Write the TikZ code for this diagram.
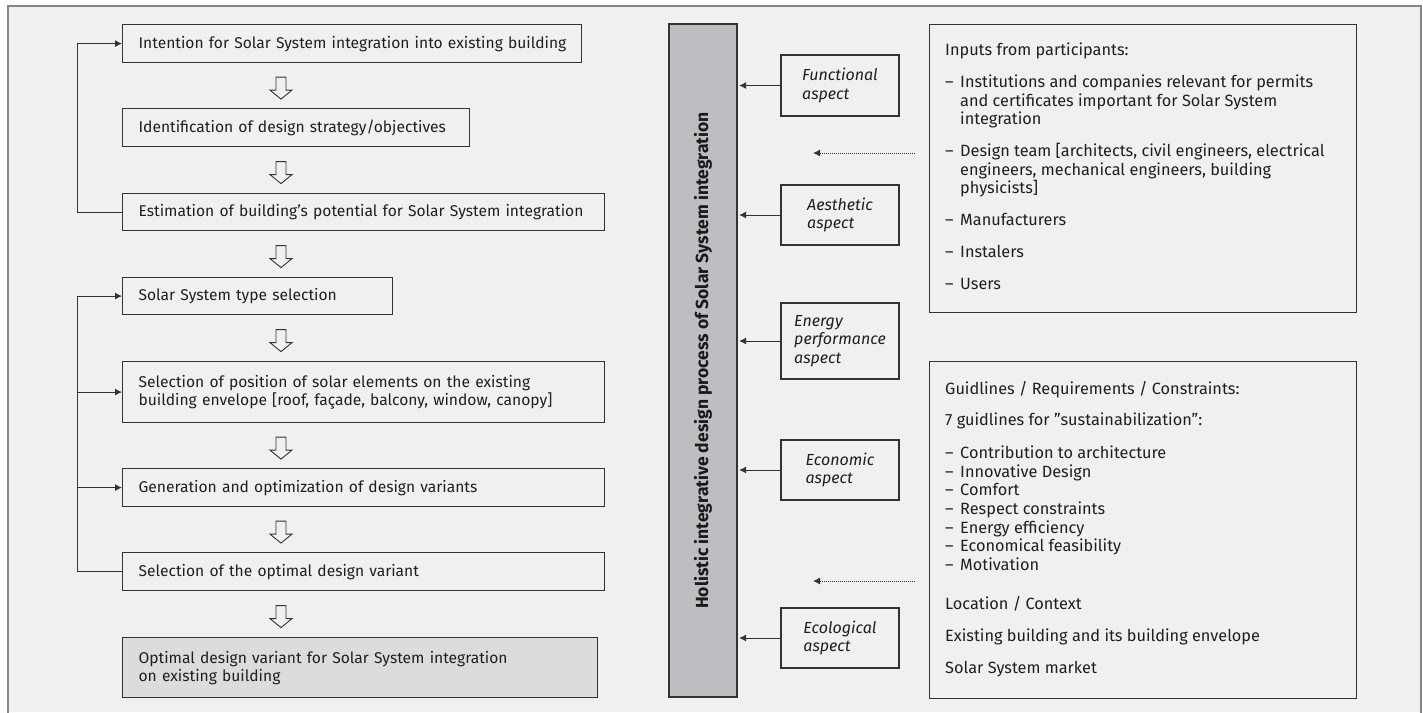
\documentclass[tikz,border=0pt]{standalone}
\usepackage{fontspec}
\setmainfont{Fira Sans}
\usetikzlibrary{arrows.meta,calc}
\definecolor{bg}{HTML}{F0F0F0}
\definecolor{framec}{HTML}{858585}
\definecolor{linec}{HTML}{333333}
\definecolor{barc}{HTML}{BDBEC1}
\definecolor{finalc}{HTML}{DCDCDD}
\tikzset{
  base font/.style={font=\fontsize{15.6}{18}\selectfont},
  stepbox/.style={draw=linec, line width=1.2pt, anchor=north west, inner xsep=16pt, inner ysep=0pt, align=left, base font, text=black!88},
  aspectbox/.style={draw=linec, line width=1.2pt, minimum width=118pt, inner sep=0pt, align=left, font=\fontsize{16}{18.5}\selectfont\itshape, text=black!88},
  infobox/.style={draw=linec, line width=1.2pt, anchor=north west, inner sep=0pt, minimum width=427pt},
  txt/.style={anchor=base west, inner sep=0pt, font=\fontsize{16.3}{18}\selectfont, text=black!88},
  conn/.style={draw=linec, line width=1pt, -{Latex[length=7pt,width=7pt]}},
  loop/.style={draw=linec, line width=1pt},
  dotconn/.style={draw=linec, line width=0.9pt, dash pattern=on 0.9pt off 1.1pt, -{Latex[length=7pt,width=7pt]}},
  harrow/.pic={\draw[linec, line width=0.9pt, fill=bg] (-5,-8.5) -- (5,-8.5) -- (5,4.5) -- (11,4.5) -- (0,13.5) -- (-11,4.5) -- (-5,4.5) -- cycle;}
}
\begin{document}
\begin{tikzpicture}[x=1pt,y=-1pt]
\useasboundingbox (0,0) rectangle (1423,712);
\fill[white] (0,0) rectangle (1423,712);
\fill[bg] (8,6) rectangle (1421,712);
\draw[framec, line width=2pt] (8,713) -- (8,6) -- (1421,6) -- (1421,713);

% left column boxes
\node[stepbox, minimum height=38pt, text width=427pt] (b1) at (122,24) {\mbox{Intention for Solar System integration into existing building}};
\node[stepbox, minimum height=38pt, text width=315pt] (b2) at (122,108) {\mbox{Identification of design strategy/objectives}};
\node[stepbox, minimum height=37pt, text width=450pt] (b3) at (122,193) {\mbox{Estimation of building’s potential for Solar System integration}};
\node[stepbox, minimum height=37pt, text width=238pt] (b4) at (122,277) {\mbox{Solar System type selection}};
\node[stepbox, minimum height=61pt, text width=450pt] (b5) at (122,361) {\mbox{Selection of position of solar elements on the existing}\\\mbox{building envelope [roof, façade, balcony, window, canopy]}};
\node[stepbox, minimum height=38pt, text width=450pt] (b6) at (122,468) {\mbox{Generation and optimization of design variants}};
\node[stepbox, minimum height=38pt, text width=450pt] (b7) at (122,552) {\mbox{Selection of the optimal design variant}};
\node[stepbox, minimum height=60pt, text width=443pt, fill=finalc] (b8) at (122,637) {\mbox{Optimal design variant for Solar System integration}\\\mbox{on existing building}};

% hollow arrows
\coordinate (ax) at (281,0);
\foreach \a/\b in {b1/b2,b2/b3,b3/b4,b4/b5,b5/b6,b6/b7,b7/b8}
  \pic at ($(\a.south -| ax)!0.5!(\b.north -| ax)$) {harrow};

% feedback loops
\coordinate (lx) at (77,0);
\draw[loop] (b3.west) -- (b3.west -| lx) -- (b1.west -| lx);
\draw[conn] (b1.west -| lx) -- (b1.west);
\draw[loop] (b7.west) -- (b7.west -| lx) -- (b4.west -| lx);
\draw[conn] (b4.west -| lx) -- (b4.west);
\draw[conn] (b5.west -| lx) -- (b5.west);
\draw[conn] (b6.west -| lx) -- (b6.west);

% central bar
\node[draw=linec, line width=1.2pt, fill=barc, minimum width=68pt, minimum height=673pt, inner sep=0pt] (bar) at (703,360.5) {};
\node[rotate=90, inner sep=0pt, font=\fontsize{17.5}{19}\selectfont\bfseries, text=black!90] (bartext) at (bar.center) {Holistic integrative design process of Solar System integration};

% aspect boxes
\node[aspectbox, minimum height=61pt] (functional) at (840,85.5) {Functional\\aspect};
\node[aspectbox, minimum height=60pt] (aesthetic) at (840,215) {Aesthetic\\aspect};
\node[aspectbox, minimum height=76pt] (energy) at (840,341) {Energy\\performance\\aspect};
\node[aspectbox, minimum height=60pt] (economic) at (840,470) {Economic\\aspect};
\node[aspectbox, minimum height=60pt] (ecological) at (840,638) {Ecological\\aspect};
\foreach \n in {functional,aesthetic,energy,economic,ecological}
  \draw[conn, shorten >=1.5pt] (\n.west) -- (\n.west -| bar.east);

% dotted arrows
\coordinate (d1s) at (915,153);
\coordinate (d1e) at (813,153);
\coordinate (d2s) at (915,581);
\coordinate (d2e) at (813,581);
\draw[dotconn] (d1s) -- (d1e);
\draw[dotconn] (d2s) -- (d2e);

% right boxes
\node[infobox, minimum height=288pt] (inputs) at (929,24) {};
\node[infobox, minimum height=337pt] (guide) at (929,361) {};

\foreach \y/\t [count=\i] in {
  55.5/{Inputs from participants:},
  87.3/{\makebox[15pt][l]{–}Institutions and companies relevant for permits},
  106.0/{\hspace*{15pt}and certificates important for Solar System},
  124.7/{\hspace*{15pt}integration},
  156.5/{\makebox[15pt][l]{–}Design team [architects, civil engineers, electrical},
  175.2/{\hspace*{15pt}engineers, mechanical engineers, building},
  193.9/{\hspace*{15pt}physicists]},
  225.5/{\makebox[15pt][l]{–}Manufacturers},
  257.5/{\makebox[15pt][l]{–}Instalers},
  289.5/{\makebox[15pt][l]{–}Users}}
  \node[txt] (in\i) at (945,\y) {\t};

\foreach \y/\t [count=\i] in {
  394.5/{Guidlines / Requirements / Constraints:},
  425.5/{7 guidlines for ”sustainabilization”:},
  458.5/{\makebox[15pt][l]{–}Contribution to architecture},
  477.2/{\makebox[15pt][l]{–}Innovative Design},
  495.8/{\makebox[15pt][l]{–}Comfort},
  514.5/{\makebox[15pt][l]{–}Respect constraints},
  533.2/{\makebox[15pt][l]{–}Energy efficiency},
  551.8/{\makebox[15pt][l]{–}Economical feasibility},
  570.5/{\makebox[15pt][l]{–}Motivation},
  609.5/{Location / Context},
  641.5/{Existing building and its building envelope},
  673.5/{Solar System market}}
  \node[txt] (gl\i) at (945,\y) {\t};
\end{tikzpicture}
\end{document}
